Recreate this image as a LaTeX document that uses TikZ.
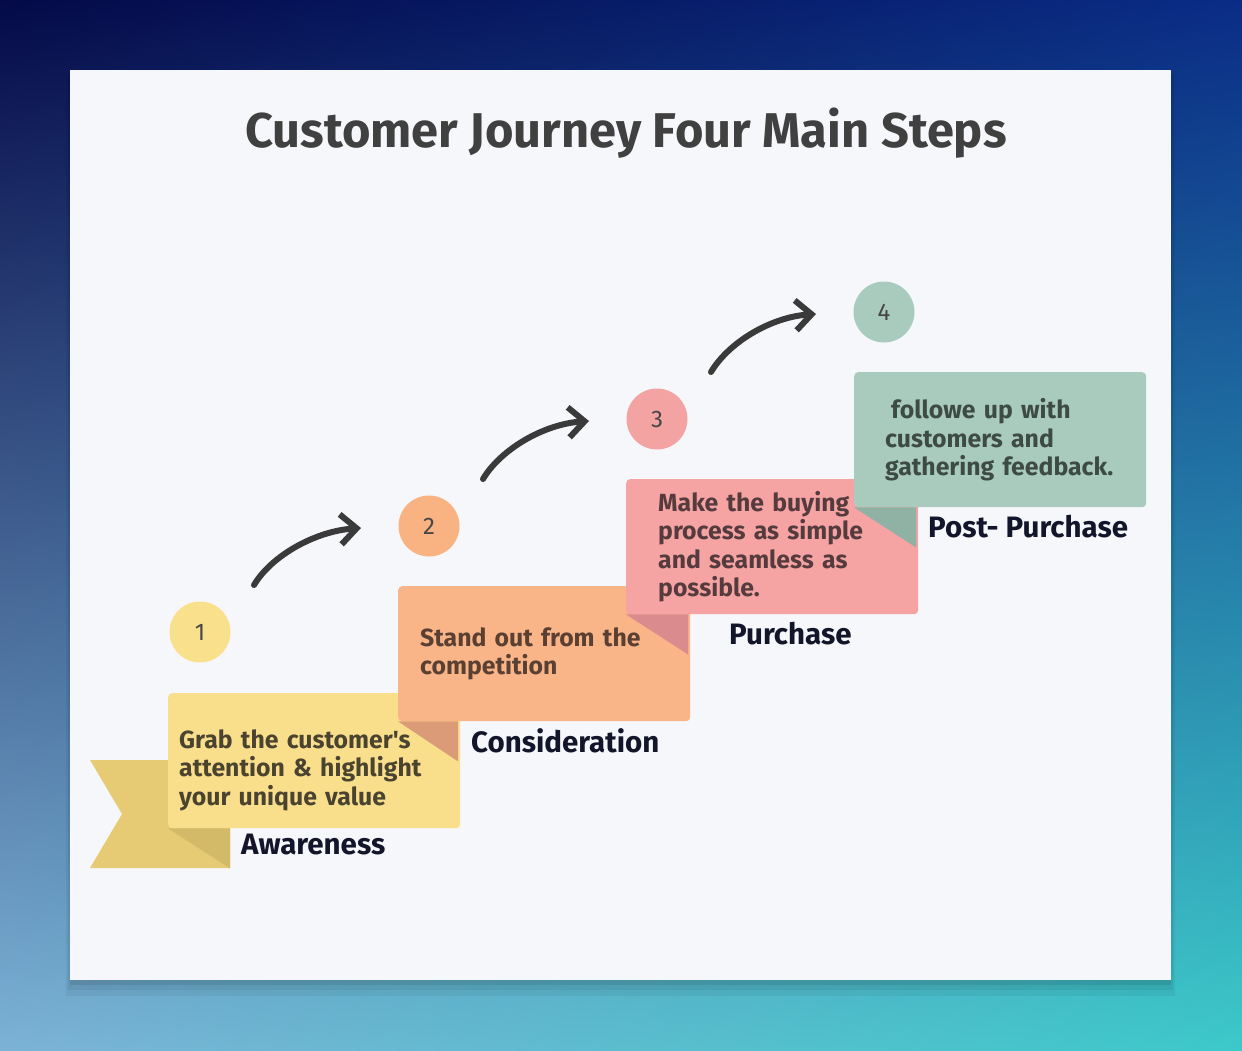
\documentclass[tikz,border=0pt]{standalone}
\usepackage{fontspec}
\setmainfont{Fira Sans}
\usepackage{tikz}
\usetikzlibrary{arrows.meta,positioning,calc,shadings}
\definecolor{bgul}{HTML}{040A48}
\definecolor{bgur}{HTML}{0A2C86}
\definecolor{bgll}{HTML}{7CB2D6}
\definecolor{bglr}{HTML}{3CC9C9}
\definecolor{cardc}{HTML}{F6F7FB}
\definecolor{titlec}{HTML}{404040}
\definecolor{labc}{HTML}{13162A}
\definecolor{numc}{HTML}{474747}
\definecolor{arrc}{HTML}{3A3A3A}
\definecolor{yelbox}{HTML}{F9DF8C}
\definecolor{yeltail}{HTML}{E6CB74}
\definecolor{yelfold}{HTML}{D2BA68}
\definecolor{yeltxt}{HTML}{4A4330}
\definecolor{orgbox}{HTML}{F9B487}
\definecolor{orgfold}{HTML}{DB9B78}
\definecolor{orgtxt}{HTML}{5A4032}
\definecolor{pnkbox}{HTML}{F5A3A3}
\definecolor{pnkfold}{HTML}{D98B8D}
\definecolor{pnktxt}{HTML}{553B3D}
\definecolor{grnbox}{HTML}{A8CBBD}
\definecolor{grnfold}{HTML}{8FB2A4}
\definecolor{grntxt}{HTML}{3E4B45}
\definecolor{dot1}{HTML}{F9E08C}
\definecolor{dot2}{HTML}{F9B282}
\definecolor{dot3}{HTML}{F4A3A3}
\definecolor{dot4}{HTML}{A9CBBE}

\begin{document}
\begin{tikzpicture}[x=1pt,y=-1pt,>={Straight Barb[length=16pt,width=30pt]},
  stepbox/.style={rounded corners=4pt,anchor=north west,minimum width=292pt,minimum height=135pt,
    align=left,inner ysep=0pt,font=\fontsize{24.8}{28.5}\selectfont\bfseries},
  numdot/.style={circle,minimum size=61pt,inner sep=0pt,text=numc,font=\fontsize{24}{24}\selectfont},
  steplabel/.style={anchor=west,inner sep=0pt,text=labc,font=\fontsize{29.5}{29.5}\selectfont\bfseries},
  flow/.style={->,line width=6pt,draw=arrc,line cap=round,line join=round}]
\useasboundingbox (0,0) rectangle (1242,1051);
\shade[upper left=bgul,upper right=bgur,lower left=bgll,lower right=bglr] (0,0) rectangle (1242,1051);
% card with soft shadow
\fill[black,opacity=.05] (66,74) rectangle (1175,996);
\fill[black,opacity=.06] (68,74) rectangle (1173,990);
\fill[black,opacity=.08] (70,74) rectangle (1171,985);
\fill[cardc] (70,70) rectangle (1171,980);
\node[font=\fontsize{48.8}{48.8}\selectfont\bfseries,text=titlec] (title) at (626,133) {Customer Journey Four Main Steps};
% ribbon tail of step 1
\coordinate (t1) at (168,828);
\fill[yeltail] ($(t1)+(-78,-68)$) -- ($(t1)+(62,-68)$) -- ($(t1)+(62,40)$) -- ($(t1)+(-78,40)$) -- ($(t1)+(-46,-14)$) -- cycle;
% step boxes
\node[stepbox,fill=yelbox,text=yeltxt,inner xsep=11pt,text width=270pt] (s1) at (168,693)
  {\rule{0pt}{38pt}Grab the customer\textquotesingle s\\attention \& highlight\\your unique value};
\fill[yelfold] (s1.south west) -- ++(62,0) -- ++(0,40) -- cycle;
\node[stepbox,fill=orgbox,text=orgtxt,inner xsep=22pt,text width=248pt] (s2) at (398,586)
  {Stand out from the\\competition};
\fill[orgfold] (s2.south west) -- ++(60,0) -- ++(0,40) -- cycle;
\node[stepbox,fill=pnkbox,text=pnktxt,inner xsep=32pt,text width=228pt] (s3) at (626,479)
  {Make the buying\\process as simple\\and seamless as\\possible.};
\fill[pnkfold] (s3.south west) -- ++(62,0) -- ++(0,40) -- cycle;
\node[stepbox,fill=grnbox,text=grntxt,inner xsep=31pt,text width=230pt] (s4) at (854,372)
  {\hspace*{6pt}followe up with\\customers and\\gathering feedback.};
\fill[grnfold] (s4.south west) -- ++(62,0) -- ++(0,40) -- cycle;
% labels
\node[steplabel] (l1) at (241,845) {Awareness};
\node[steplabel] (l2) at (471,741) {Consideration};
\node[steplabel] (l3) at (729,634) {Purchase};
\node[steplabel] (l4) at (928,527) {Post- Purchase};
% numbers
\node[numdot,fill=dot1] (n1) at (200,632) {1};
\node[numdot,fill=dot2] (n2) at (429,526) {2};
\node[numdot,fill=dot3] (n3) at (657,419) {3};
\node[numdot,fill=dot4] (n4) at (884,312) {4};
% arrows
\foreach \a/\b in {n1/n2,n2/n3,n3/n4}{
  \coordinate (\a-out) at ($(\a)+(54,-47)$);
  \coordinate (\b-in) at ($(\b)+(-68,2)$);
  \draw[flow] (\a-out) .. controls +(18,-30) and +(-45,3) .. (\b-in);
}
\end{tikzpicture}
\end{document}
